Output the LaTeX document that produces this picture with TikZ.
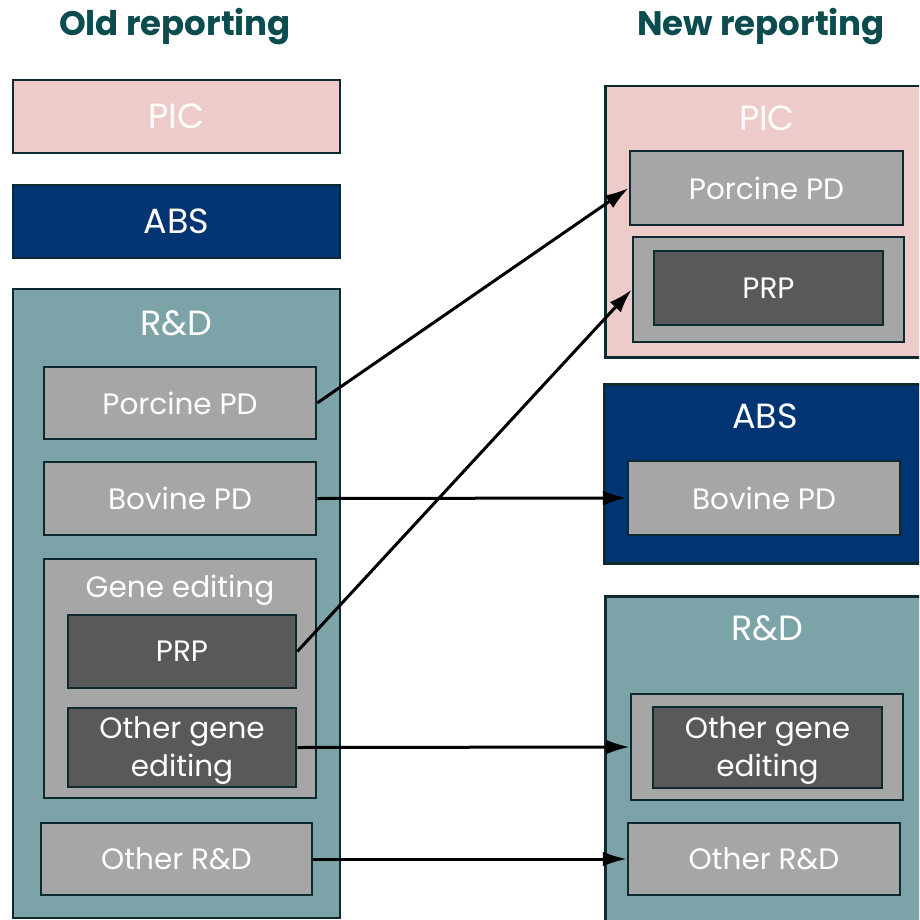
\documentclass[tikz,border=0pt]{standalone}
\usepackage{fontspec}
\setmainfont{Poppins}
\usetikzlibrary{arrows.meta}

\definecolor{picpink}{HTML}{EECBCB}
\definecolor{absblue}{HTML}{003473}
\definecolor{rdteal}{HTML}{7BA3A8}
\definecolor{unitgray}{HTML}{A6A6A6}
\definecolor{subdark}{HTML}{595959}
\definecolor{edgedark}{HTML}{0E2A2E}
\definecolor{titleteal}{HTML}{0B4C4F}

\tikzset{
  box/.style={draw=edgedark, line width=2.5pt, rectangle, inner sep=0pt,
    text=white, font=\fontsize{29.5}{38}\selectfont, align=center},
  head/.style={text=white, font=\fontsize{35}{40}\selectfont},
  title/.style={text=titleteal, font=\bfseries\fontsize{34}{40}\selectfont},
  move/.style={-{Latex[length=24pt,width=15pt]}, line width=3pt}
}

\begin{document}
\begin{tikzpicture}[x=1pt, y=-1pt]
	\useasboundingbox (0,0) rectangle (919,920);
	\clip (0,0) rectangle (919,920);

	% Titles
	\node[title] (oldtitle) at (175,27) {Old reporting};
	\node[title] (newtitle) at (761,27) {New reporting};

	% Old reporting
	\node[box, fill=picpink, minimum width=327, minimum height=73] (oldpic) at (176.5,116.5) {};
	\node[head] at (oldpic) {PIC};
	\node[box, fill=absblue, minimum width=327, minimum height=73] (oldabs) at (176.5,221.5) {};
	\node[head] at (oldabs) {ABS};
	\node[box, fill=rdteal, minimum width=327, minimum height=629] (oldrd) at (176.5,603.5) {};
	\node[head] at (176.5,323) {R\&D};
	\node[box, fill=unitgray, minimum width=272, minimum height=72] (oldpor) at (180,403) {Porcine PD};
	\node[box, fill=unitgray, minimum width=272, minimum height=73] (oldbov) at (180,498.5) {Bovine PD};
	\node[box, fill=unitgray, minimum width=272, minimum height=239] (oldgene) at (180,678.5) {};
	\node[text=white, font=\fontsize{29.5}{38}\selectfont] at (180,590) {Gene editing};
	\node[box, fill=subdark, minimum width=228, minimum height=73] (oldprp) at (182,651.5) {PRP};
	\node[box, fill=subdark, minimum width=228, minimum height=79] (oldoge) at (182,747.5) {};
	\node[text=white, font=\fontsize{29.5}{38}\selectfont, align=center] at (182,751) {Other gene\\editing};
	\node[box, fill=unitgray, minimum width=271, minimum height=72] (oldord) at (176.5,859) {Other R\&D};

	% New reporting
	\node[box, fill=picpink, minimum width=330, minimum height=271, anchor=north west] (newpic) at (604,85) {};
	\node[head] at (767,118) {PIC};
	\node[box, fill=unitgray, minimum width=273, minimum height=74] (newpor) at (766.5,188) {Porcine PD};
	\node[box, fill=unitgray, minimum width=271, minimum height=105] (newprpbox) at (768.5,289.5) {};
	\node[box, fill=subdark, minimum width=229, minimum height=74] (newprp) at (768.5,288) {PRP};

	\node[box, fill=absblue, minimum width=330, minimum height=179, anchor=north west] (newabs) at (603,383) {};
	\node[head] at (765,416) {ABS};
	\node[box, fill=unitgray, minimum width=272, minimum height=74] (newbov) at (764,498) {Bovine PD};

	\node[box, fill=rdteal, minimum width=330, minimum height=340, anchor=north west] (newrd) at (604,595) {};
	\node[head] at (767,628) {R\&D};
	\node[box, fill=unitgray, minimum width=272, minimum height=106] (newogebox) at (767,747) {};
	\node[box, fill=subdark, minimum width=229, minimum height=81] (newoge) at (767.5,747.5) {};
	\node[text=white, font=\fontsize{29.5}{38}\selectfont, align=center] at (767.5,751) {Other gene\\editing};
	\node[box, fill=unitgray, minimum width=272, minimum height=72] (neword) at (764,859) {Other R\&D};

	% Moves
	\draw[move] (oldpor.east) -- (newpor.west);
	\draw[move] (oldprp.east) -- (newprpbox.west);
	\draw[move] (oldbov.east) -- (newbov.west);
	\draw[move] (oldoge.east) -- (newogebox.west);
	\draw[move] (oldord.east) -- (neword.west);
\end{tikzpicture}
\end{document}
